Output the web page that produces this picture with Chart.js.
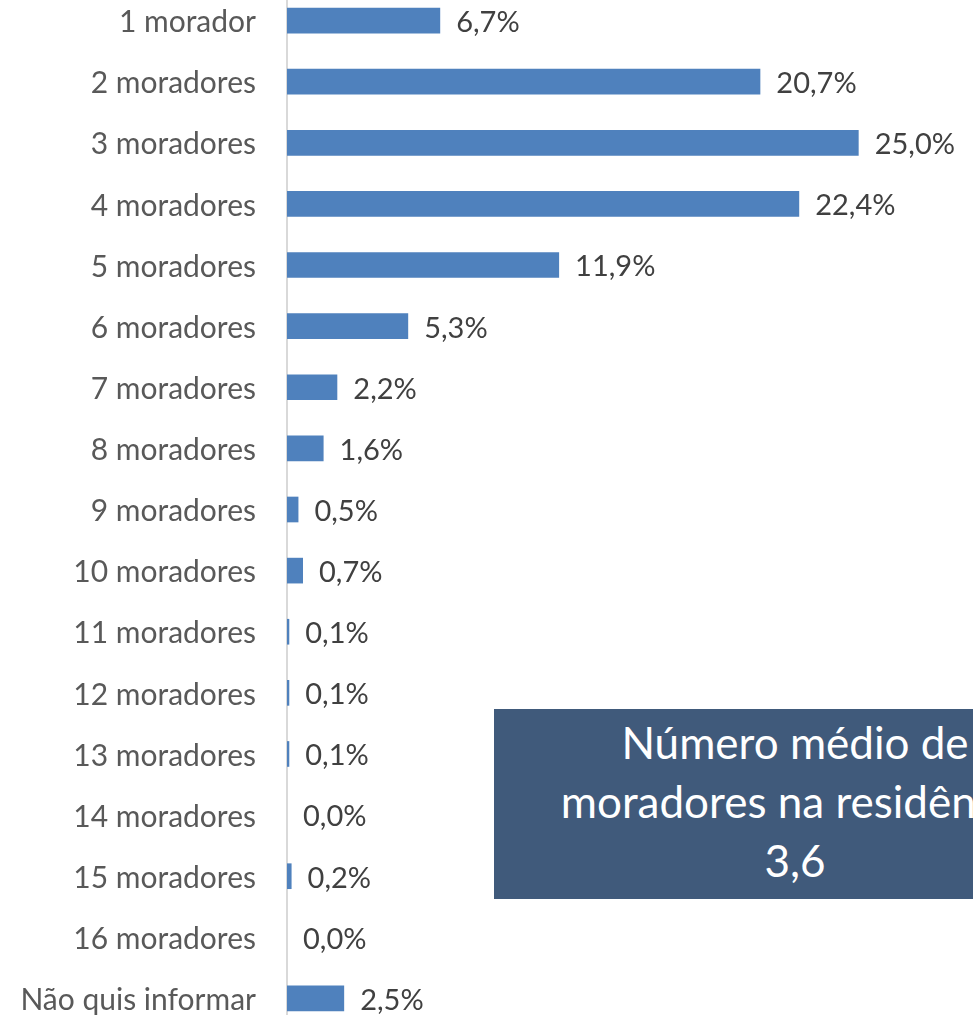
<!DOCTYPE html>
<html><head><meta charset="utf-8">
<script src="https://cdn.jsdelivr.net/npm/chart.js@4/dist/chart.umd.min.js"></script>
<style>
html,body{margin:0;padding:0;background:#fff;overflow:hidden;width:973px;height:1015px;}
#wrap{position:absolute;left:0;top:-10px;width:973px;height:1039px;}
#box{position:absolute;left:494px;top:709px;width:602px;height:190px;background:#405A7B;color:#fff;
font-family:Lato,"Noto Sans",sans-serif;font-size:44px;line-height:59px;text-align:center;box-sizing:border-box;padding-top:4px;white-space:nowrap;}
</style></head><body>
<div id="wrap"><canvas id="c" width="973" height="1039"></canvas></div>
<div id="box">Número médio de<br>moradores na residência<br>3,6</div>
<script>
const categories = ["1 morador","2 moradores","3 moradores","4 moradores","5 moradores","6 moradores","7 moradores","8 moradores","9 moradores","10 moradores","11 moradores","12 moradores","13 moradores","14 moradores","15 moradores","16 moradores","Não quis informar"];
const values = [6.7,20.7,25.0,22.4,11.9,5.3,2.2,1.6,0.5,0.7,0.1,0.1,0.1,0.0,0.2,0.0,2.5];
const valueLabels = ["6,7%","20,7%","25,0%","22,4%","11,9%","5,3%","2,2%","1,6%","0,5%","0,7%","0,1%","0,1%","0,1%","0,0%","0,2%","0,0%","2,5%"];

const FONT = 'Lato, "Noto Sans", sans-serif';
const labelPlugin = {
  id:'vlabels',
  afterDatasetsDraw(chart){
    const ctx = chart.ctx;
    const meta = chart.getDatasetMeta(0);
    ctx.save();
    ctx.font = '29px ' + FONT;
    ctx.fillStyle = '#404040';
    ctx.textAlign = 'left';
    ctx.textBaseline = 'middle';
    meta.data.forEach((bar,i)=>{
      ctx.fillText(valueLabels[i], bar.x + 16, bar.y + 2);
    });
    ctx.restore();
  }
};

new Chart(document.getElementById('c'), {
  type:'bar',
  data:{labels:categories, datasets:[{data:values, backgroundColor:'#4F81BD', borderWidth:0, barPercentage:0.42, categoryPercentage:1}]},
  options:{
    indexAxis:'y', responsive:false, animation:false,
    layout:{padding:0},
    plugins:{legend:{display:false}, tooltip:{enabled:false}},
    scales:{
      x:{display:false, min:0, max:30},
      y:{
        afterFit(s){ s.width = 287; s.paddingTop = 0; s.paddingBottom = 0; },
        grid:{display:false, drawTicks:false},
        border:{display:true, color:'#D9D9D9', width:2},
        ticks:{padding:31, labelOffset:2, color:'#595959', font:{family:FONT, size:30}}
      }
    }
  },
  plugins:[labelPlugin]
});
</script>
</body></html>
